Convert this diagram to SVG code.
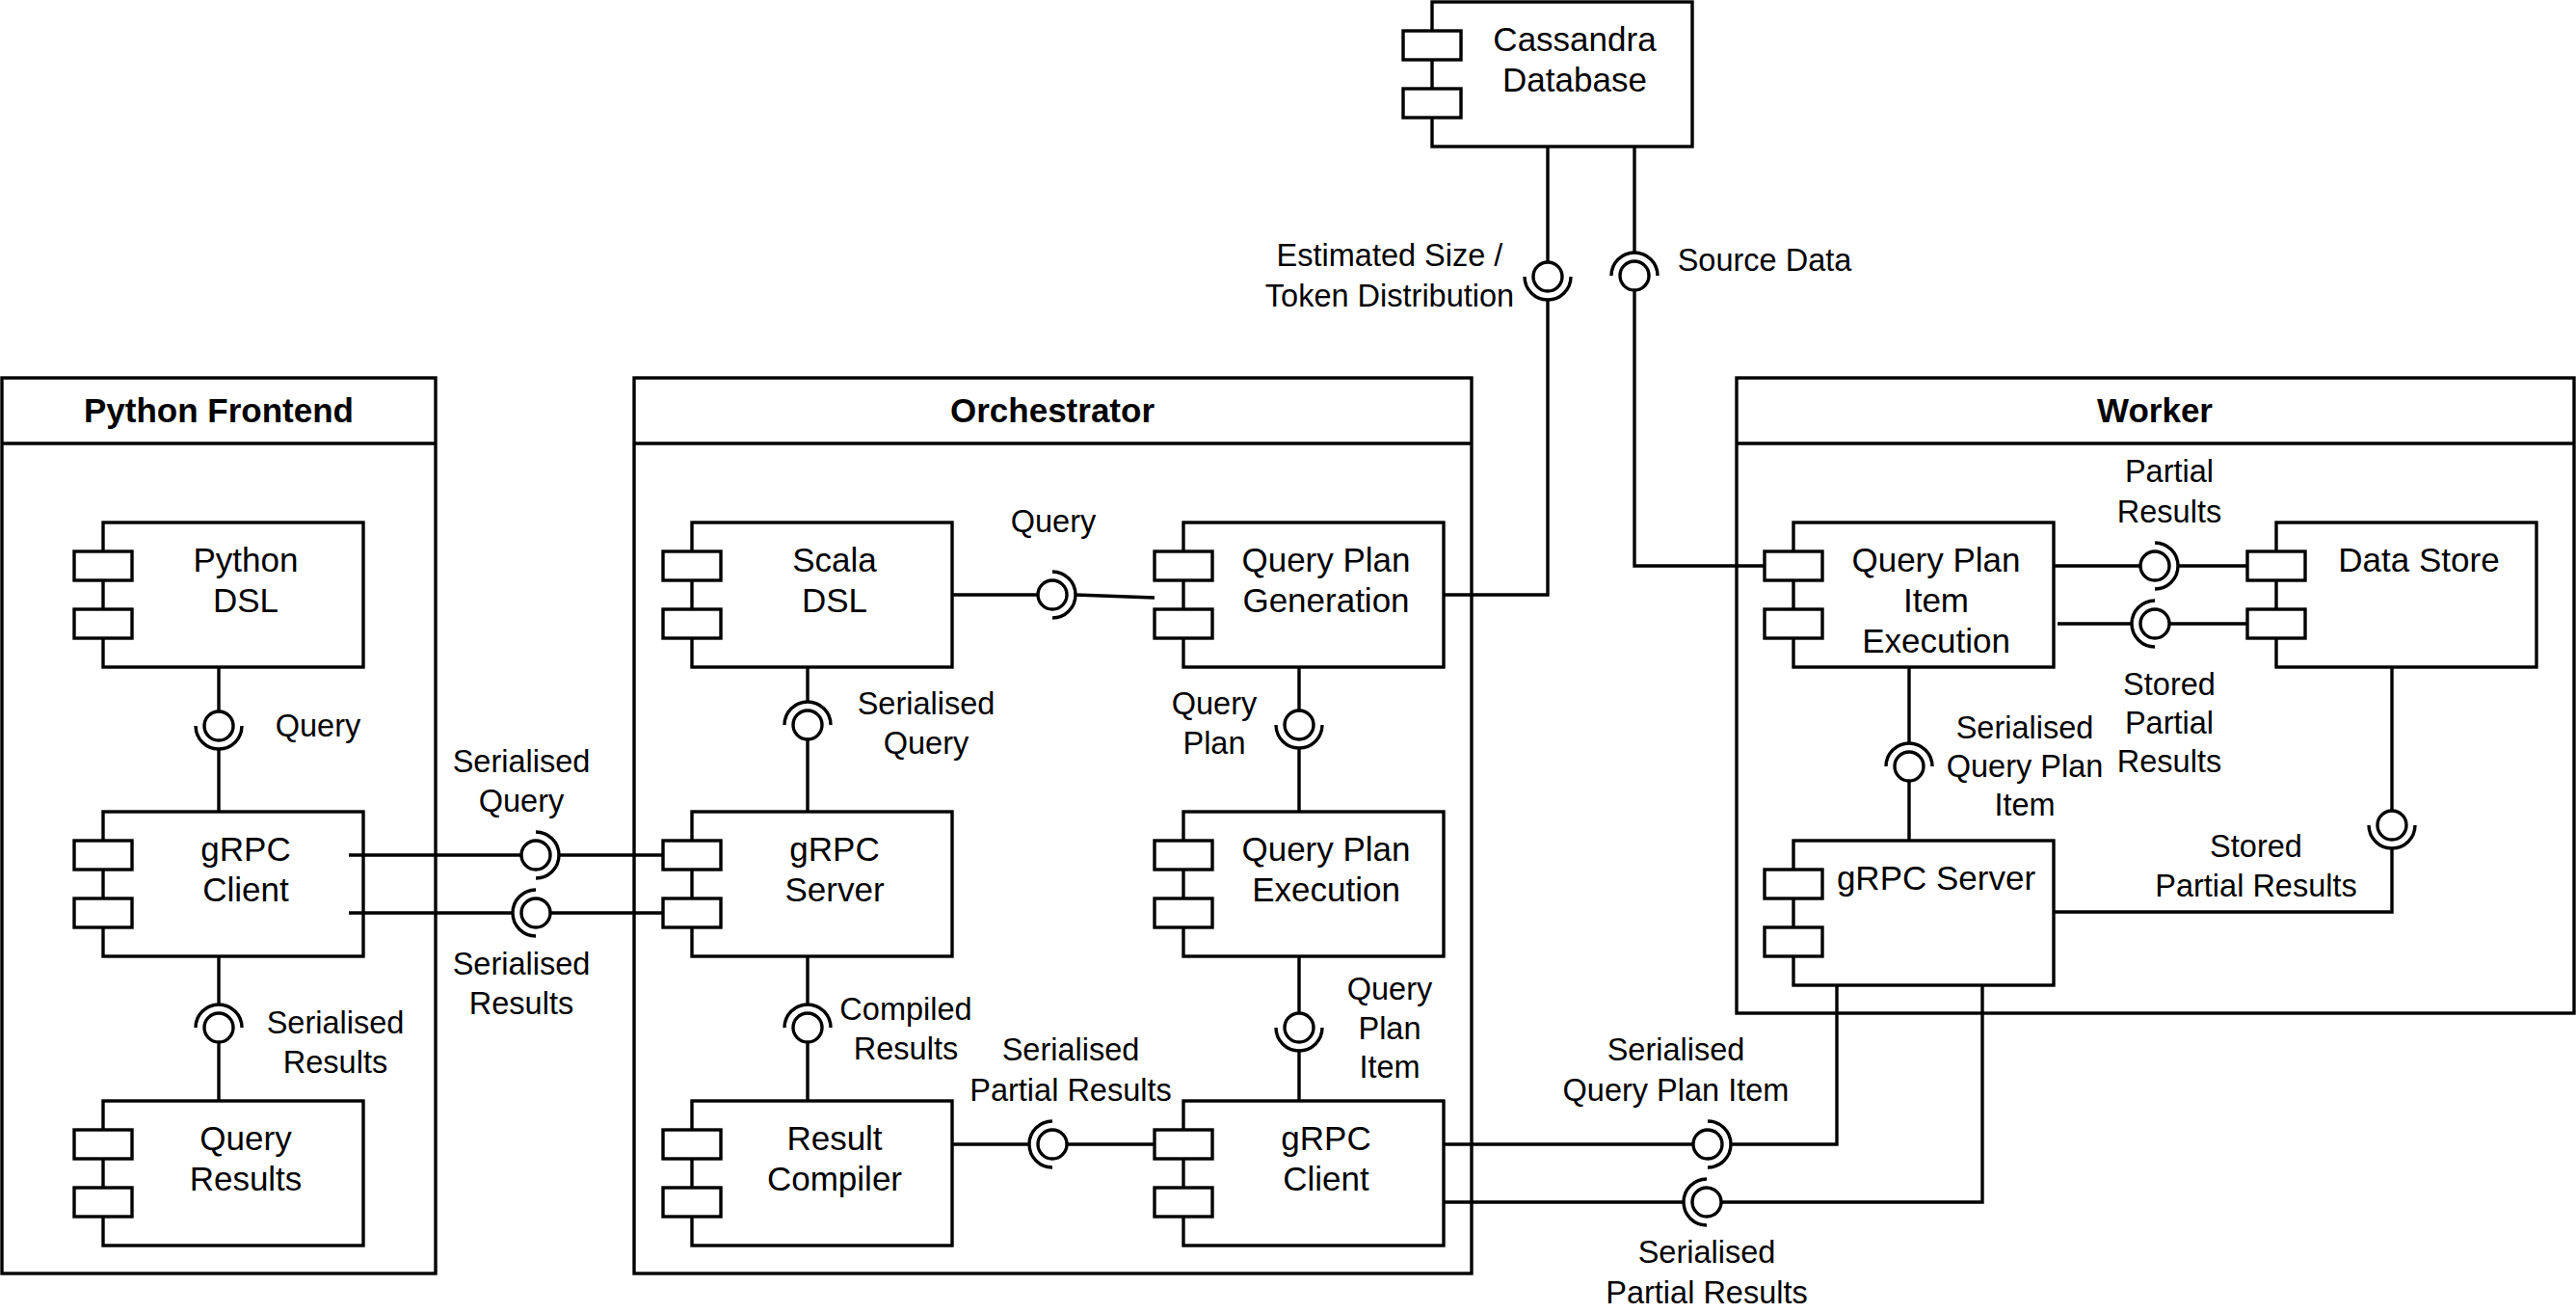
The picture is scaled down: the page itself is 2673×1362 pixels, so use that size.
<svg xmlns="http://www.w3.org/2000/svg" width="2673" height="1362" viewBox="0 0 2673 1362">
<style>
.c{fill:#fff;stroke:#000;stroke-width:3.4}
.b{fill:#fff;stroke:#000;stroke-width:3.4}
.p{fill:#fff;stroke:#000;stroke-width:3.4}
.l{fill:none;stroke:#000;stroke-width:3.4}
.t{font-family:"Liberation Sans",Arial,sans-serif;font-size:35px;fill:#000;text-anchor:middle}
.s{font-family:"Liberation Sans",Arial,sans-serif;font-size:32.5px;fill:#000;text-anchor:middle}
.h{font-family:"Liberation Sans",Arial,sans-serif;font-size:35px;font-weight:bold;fill:#000;text-anchor:middle}
</style>
<defs>
<g id="comp">
<rect class="b" x="30" y="0" width="270" height="150"/>
<rect class="p" x="0" y="30" width="60" height="30"/>
<rect class="p" x="0" y="90" width="60" height="30"/>
</g>
</defs>
<rect x="0" y="0" width="2673" height="1362" fill="#fff"/>

<g id="python-frontend">
<rect class="c" x="2" y="392" width="450" height="929"/>
<line class="l" x1="2" y1="460" x2="452" y2="460"/>
<text class="h" x="227" y="438">Python Frontend</text>
</g>
<g id="orchestrator">
<rect class="c" x="658" y="392" width="869" height="929"/>
<line class="l" x1="658" y1="460" x2="1527" y2="460"/>
<text class="h" x="1092" y="438">Orchestrator</text>
</g>
<g id="worker">
<rect class="c" x="1802" y="392" width="869" height="659"/>
<line class="l" x1="1802" y1="460" x2="2671" y2="460"/>
<text class="h" x="2236" y="438">Worker</text>
</g>

<g id="cassandra-database" transform="translate(1456,2)"><use href="#comp"/><text class="t" x="178" y="51">Cassandra</text><text class="t" x="178" y="93">Database</text></g>
<g id="python-dsl" transform="translate(77,542)"><use href="#comp"/><text class="t" x="178" y="51">Python</text><text class="t" x="178" y="93">DSL</text></g>
<g id="py-grpc-client" transform="translate(77,842)"><use href="#comp"/><text class="t" x="178" y="51">gRPC</text><text class="t" x="178" y="93">Client</text></g>
<g id="query-results" transform="translate(77,1142)"><use href="#comp"/><text class="t" x="178" y="51">Query</text><text class="t" x="178" y="93">Results</text></g>
<g id="scala-dsl" transform="translate(688,542)"><use href="#comp"/><text class="t" x="178" y="51">Scala</text><text class="t" x="178" y="93">DSL</text></g>
<g id="orch-grpc-server" transform="translate(688,842)"><use href="#comp"/><text class="t" x="178" y="51">gRPC</text><text class="t" x="178" y="93">Server</text></g>
<g id="result-compiler" transform="translate(688,1142)"><use href="#comp"/><text class="t" x="178" y="51">Result</text><text class="t" x="178" y="93">Compiler</text></g>
<g id="query-plan-generation" transform="translate(1198,542)"><use href="#comp"/><text class="t" x="178" y="51">Query Plan</text><text class="t" x="178" y="93">Generation</text></g>
<g id="query-plan-execution" transform="translate(1198,842)"><use href="#comp"/><text class="t" x="178" y="51">Query Plan</text><text class="t" x="178" y="93">Execution</text></g>
<g id="orch-grpc-client" transform="translate(1198,1142)"><use href="#comp"/><text class="t" x="178" y="51">gRPC</text><text class="t" x="178" y="93">Client</text></g>
<g id="query-plan-item-execution" transform="translate(1831,542)"><use href="#comp"/><text class="t" x="178" y="51">Query Plan</text><text class="t" x="178" y="93">Item</text><text class="t" x="178" y="135">Execution</text></g>
<g id="data-store" transform="translate(2332,542)"><use href="#comp"/><text class="t" x="178" y="51">Data Store</text></g>
<g id="worker-grpc-server" transform="translate(1831,872)"><use href="#comp"/><text class="t" x="178" y="51">gRPC Server</text></g>

<g id="connectors">
<path class="l" d="M227,692V738M227,777V842"/>
<circle class="l" cx="227" cy="753" r="15"/>
<path class="l" d="M203,753A24,24 0 0 0 251,753"/>
<path class="l" d="M227,992V1042M227,1081V1142"/>
<circle class="l" cx="227" cy="1066" r="15"/>
<path class="l" d="M203,1066A24,24 0 0 1 251,1066"/>
<path class="l" d="M362,887H541M580,887H688"/>
<circle class="l" cx="556" cy="887" r="15"/>
<path class="l" d="M556,863A24,24 0 0 1 556,911"/>
<path class="l" d="M362,947H532M571,947H688"/>
<circle class="l" cx="556" cy="947" r="15"/>
<path class="l" d="M556,923A24,24 0 0 0 556,971"/>
<path class="l" d="M838,692V728M838,767V842"/>
<circle class="l" cx="838" cy="752" r="15"/>
<path class="l" d="M814,752A24,24 0 0 1 862,752"/>
<path class="l" d="M838,992V1042M838,1081V1142"/>
<circle class="l" cx="838" cy="1066" r="15"/>
<path class="l" d="M814,1066A24,24 0 0 1 862,1066"/>
<path class="l" d="M1348,692V737M1348,776V842"/>
<circle class="l" cx="1348" cy="752" r="15"/>
<path class="l" d="M1324,752A24,24 0 0 0 1372,752"/>
<path class="l" d="M1348,992V1051M1348,1090V1142"/>
<circle class="l" cx="1348" cy="1066" r="15"/>
<path class="l" d="M1324,1066A24,24 0 0 0 1372,1066"/>
<path class="l" d="M988,617H1077M1116,617L1198,620"/>
<circle class="l" cx="1092" cy="617" r="15"/>
<path class="l" d="M1092,593A24,24 0 0 1 1092,641"/>
<path class="l" d="M988,1187H1068M1107,1187H1198"/>
<circle class="l" cx="1092" cy="1187" r="15"/>
<path class="l" d="M1092,1163A24,24 0 0 0 1092,1211"/>
<path class="l" d="M1606,151V272M1606,311V617H1498"/>
<circle class="l" cx="1606" cy="287" r="15"/>
<path class="l" d="M1582,287A24,24 0 0 0 1630,287"/>
<path class="l" d="M1696,151V262M1696,301V587H1831"/>
<circle class="l" cx="1696" cy="286" r="15"/>
<path class="l" d="M1672,286A24,24 0 0 1 1720,286"/>
<path class="l" d="M2131,587H2221M2260,587H2332"/>
<circle class="l" cx="2236" cy="587" r="15"/>
<path class="l" d="M2236,563A24,24 0 0 1 2236,611"/>
<path class="l" d="M2135,647H2212M2251,647H2332"/>
<circle class="l" cx="2236" cy="647" r="15"/>
<path class="l" d="M2236,623A24,24 0 0 0 2236,671"/>
<path class="l" d="M1981,692V771M1981,810V872"/>
<circle class="l" cx="1981" cy="795" r="15"/>
<path class="l" d="M1957,795A24,24 0 0 1 2005,795"/>
<path class="l" d="M2482,692V841M2482,880V946H2131"/>
<circle class="l" cx="2482" cy="856" r="15"/>
<path class="l" d="M2458,856A24,24 0 0 0 2506,856"/>
<path class="l" d="M1498,1187H1757M1796,1187H1906V1022"/>
<circle class="l" cx="1772" cy="1187" r="15"/>
<path class="l" d="M1772,1163A24,24 0 0 1 1772,1211"/>
<path class="l" d="M1498,1247H1747M1786,1247H2057V1022"/>
<circle class="l" cx="1771" cy="1247" r="15"/>
<path class="l" d="M1771,1223A24,24 0 0 0 1771,1271"/>
</g>

<g id="labels">
<text class="s" x="330" y="764">Query</text>
<text class="s" x="541" y="801">Serialised</text><text class="s" x="541" y="842">Query</text>
<text class="s" x="541" y="1011">Serialised</text><text class="s" x="541" y="1052">Results</text>
<text class="s" x="348" y="1072">Serialised</text><text class="s" x="348" y="1113">Results</text>
<text class="s" x="1093" y="552">Query</text>
<text class="s" x="961" y="741">Serialised</text><text class="s" x="961" y="782">Query</text>
<text class="s" x="1260" y="741">Query</text><text class="s" x="1260" y="782">Plan</text>
<text class="s" x="940" y="1058">Compiled</text><text class="s" x="940" y="1099">Results</text>
<text class="s" x="1111" y="1100">Serialised</text><text class="s" x="1111" y="1142">Partial Results</text>
<text class="s" x="1442" y="1037">Query</text><text class="s" x="1442" y="1078">Plan</text><text class="s" x="1442" y="1118">Item</text>
<text class="s" x="1442" y="276">Estimated Size /</text><text class="s" x="1442" y="318">Token Distribution</text>
<text class="s" x="1831" y="281">Source Data</text>
<text class="s" x="2251" y="500">Partial</text><text class="s" x="2251" y="542">Results</text>
<text class="s" x="2251" y="721">Stored</text><text class="s" x="2251" y="761">Partial</text><text class="s" x="2251" y="801">Results</text>
<text class="s" x="2101" y="766">Serialised</text><text class="s" x="2101" y="806">Query Plan</text><text class="s" x="2101" y="846">Item</text>
<text class="s" x="2341" y="889">Stored</text><text class="s" x="2341" y="930">Partial Results</text>
<text class="s" x="1739" y="1100">Serialised</text><text class="s" x="1739" y="1142">Query Plan Item</text>
<text class="s" x="1771" y="1310">Serialised</text><text class="s" x="1771" y="1352">Partial Results</text>
</g>
</svg>
